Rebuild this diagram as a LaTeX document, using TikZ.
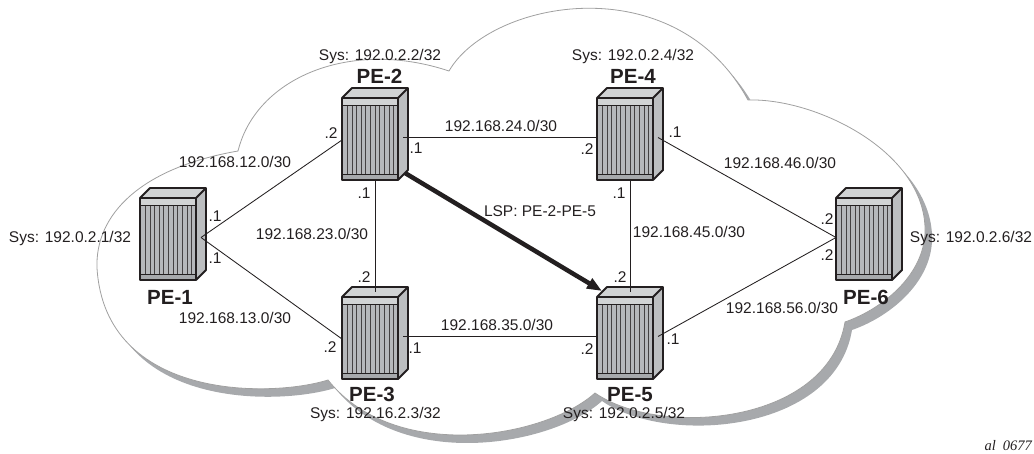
\documentclass[tikz,border=0pt]{standalone}
\usepackage{fontspec}
\setmainfont{Liberation Sans}
\newfontfamily\tagfont{Liberation Serif}
\usetikzlibrary{arrows.meta}
\definecolor{cloudBand}{RGB}{167,169,172}
\definecolor{cloudLine}{RGB}{160,160,160}
\definecolor{boxDark}{RGB}{35,31,32}
\definecolor{boxTop}{RGB}{209,211,212}
\definecolor{boxSide}{RGB}{188,190,192}
\definecolor{boxSlot}{RGB}{182,184,187}
\tikzset{
  pics/router/.style={code={
    \path[fill=boxTop] (0,10) -- (10,0) -- (66,0) -- (56,10) -- cycle;
    \path[fill=boxSide] (56,10) -- (66,0) -- (66,82) -- (56,92) -- cycle;
    \path[fill=boxSlot] (0,10) rectangle (56,92);
    \path[fill=boxTop] (0,10) rectangle (56,17);
    \path[fill=cloudBand] (0,86) rectangle (56,92);
    \foreach \s in {1,...,11}
      \draw[boxDark!85, line width=0.8pt] ({0.6+4.65*\s},17) -- ({0.6+4.65*\s},86);
    \draw[boxDark, line width=0.9pt] (0,17) -- (56,17) (0,86) -- (56,86);
    \draw[boxDark, line width=1.9pt, line join=round]
      (0,10) -- (10,0) -- (66,0) -- (66,82) -- (56,92) -- (0,92) -- cycle
      (0,10) -- (56,10) -- (66,0) (56,10) -- (56,92);
    \coordinate (-north) at (33,5);
    \coordinate (-south) at (33,92);
    \coordinate (-west) at (0,52);
    \coordinate (-mid) at (0,49.5);
    \coordinate (-east) at (61,49.5);
    \coordinate (-nw) at (5,4);
    \coordinate (-se) at (63,85);
  }}
}
\begin{document}
\begin{tikzpicture}[
  x=1pt, y=-1pt,
  >=Latex,
  addr/.style={font=\fontsize{15.5}{18}\selectfont, text=boxDark, inner sep=0pt,
    text height=11pt, text depth=0pt},
  pename/.style={font=\fontsize{20.5}{24}\selectfont\bfseries, text=boxDark, inner sep=0pt,
    text height=15pt, text depth=0pt},
  link/.style={draw=boxDark, line width=0.85pt},
  lsp/.style={draw=boxDark, line width=4.5pt, -{Triangle[length=15pt, width=11pt]}},
  cloud/.style={insert path={
    (238,151)
    .. controls (256,78) and (350,38) .. (449,71)
    .. controls (490,0) and (675,-35) .. (748,100)
    .. controls (815,98) and (922,150) .. (925,227)
    .. controls (927,272) and (885,308) .. (845,322)
    .. controls (828,425) and (660,438) .. (595,393)
    .. controls (545,438) and (395,464) .. (328,380)
    .. controls (270,398) and (105,400) .. (97,268)
    .. controls (95,215) and (140,168) .. (238,151)
    -- cycle}}
]
\useasboundingbox (0,0) rectangle (1034,453);

% Cloud with its shadow band.
\path[fill=cloudBand, shift={(7,8)}, cloud];
\path[fill=white, draw=cloudLine, line width=0.8pt, cloud];

% Routers.
\pic (pe1) at (140,188) {router};
\pic (pe2) at (342,88) {router};
\pic (pe3) at (342,287) {router};
\pic (pe4) at (597,88) {router};
\pic (pe5) at (597,287) {router};
\pic (pe6) at (836,188) {router};

% Links.
\draw[link] (pe1-east) -- (pe2-west);
\draw[link] (pe1-east) -- (pe3-west);
\draw[link] (pe2-south) -- (pe3-north);
\draw[link] (pe2-east) -- (pe4-mid);
\draw[link] (pe3-east) -- (pe5-mid);
\draw[link] (pe4-south) -- (pe5-north);
\draw[link] (pe4-east) -- (pe6-mid);
\draw[link] (pe5-east) -- (pe6-mid);
\draw[lsp] (pe2-se) -- (pe5-nw);

% Router names and system addresses.
\node[pename] (name1) at (170,297) {PE-1};
\node[pename] (name2) at (379.5,76) {PE-2};
\node[pename] (name3) at (372,394) {PE-3};
\node[pename] (name4) at (633,76) {PE-4};
\node[pename] (name5) at (630,394) {PE-5};
\node[pename] (name6) at (866,297) {PE-6};
\node[addr] (sys1) at (70,237) {Sys: 192.0.2.1/32};
\node[addr] (sys2) at (380,55) {Sys: 192.0.2.2/32};
\node[addr] (sys3) at (375.5,413) {Sys: 192.16.2.3/32};
\node[addr] (sys4) at (633,55) {Sys: 192.0.2.4/32};
\node[addr] (sys5) at (624,413) {Sys: 192.0.2.5/32};
\node[addr] (sys6) at (971,237) {Sys: 192.0.2.6/32};

% Subnets.
\node[addr] (net12) at (235,162) {192.168.12.0/30};
\node[addr] (net13) at (235,318) {192.168.13.0/30};
\node[addr] (net23) at (312,234) {192.168.23.0/30};
\node[addr] (net24) at (501,126) {192.168.24.0/30};
\node[addr] (net35) at (497,325) {192.168.35.0/30};
\node[addr] (net45) at (689,232) {192.168.45.0/30};
\node[addr] (net46) at (780,163) {192.168.46.0/30};
\node[addr] (net56) at (782,308) {192.168.56.0/30};
\node[addr] (lsplabel) at (540,211) {LSP: PE-2-PE-5};

% Interface addresses.
\node[addr] (if12a) at (215,216) {.1};
\node[addr] (if13a) at (215,258) {.1};
\node[addr] (if12b) at (331,133) {.2};
\node[addr] (if24a) at (416,148) {.1};
\node[addr] (if23a) at (364,193) {.1};
\node[addr] (if23b) at (364,277) {.2};
\node[addr] (if13b) at (330,347) {.2};
\node[addr] (if35a) at (415,348) {.1};
\node[addr] (if24b) at (587,149) {.2};
\node[addr] (if46a) at (675,132) {.1};
\node[addr] (if45a) at (619,193) {.1};
\node[addr] (if45b) at (620,277) {.2};
\node[addr] (if35b) at (587,349) {.2};
\node[addr] (if56a) at (673,339) {.1};
\node[addr] (if46b) at (827,219) {.2};
\node[addr] (if56b) at (827,255) {.2};

\node[anchor=east, inner sep=0pt, text=boxDark, font=\fontsize{14.5}{17}\selectfont\tagfont\itshape] (tag) at (1032,446) {al\hspace{7pt}0677};
\end{tikzpicture}
\end{document}
